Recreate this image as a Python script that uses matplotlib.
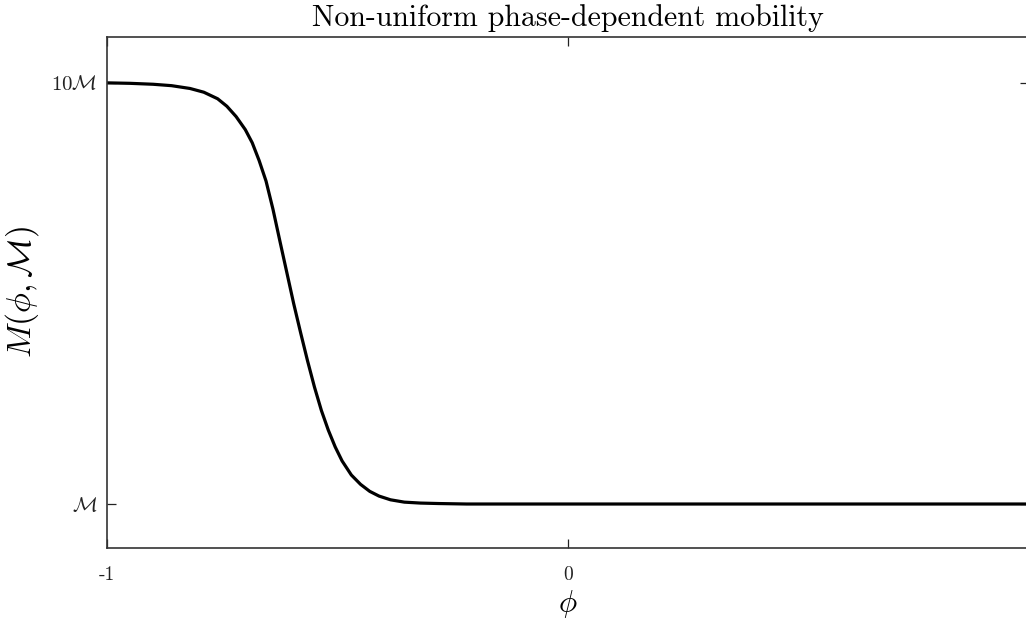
import numpy as np
import matplotlib
matplotlib.use("Agg")
import matplotlib.pyplot as plt

# values (mobility in units of script M)
phi = [-1.0, -0.95, -0.9, -0.86, -0.82, -0.79, -0.76, -0.74, -0.72, -0.70,
       -0.685, -0.67, -0.655, -0.64, -0.625, -0.61, -0.595, -0.58, -0.565,
       -0.55, -0.535, -0.52, -0.505, -0.49, -0.47, -0.45, -0.43, -0.41,
       -0.385, -0.355, -0.32, -0.28, -0.22, -0.1, 0.0, 0.5, 1.0]
mob = [10.0, 9.99, 9.97, 9.94, 9.88, 9.80, 9.66, 9.50, 9.28, 9.00,
       8.72, 8.34, 7.90, 7.30, 6.62, 5.95, 5.28, 4.66, 4.06,
       3.50, 3.00, 2.58, 2.22, 1.92, 1.62, 1.42, 1.27, 1.17,
       1.09, 1.04, 1.02, 1.01, 1.0, 1.0, 1.0, 1.0, 1.0]

xticks = [-1, 0]
xticklabels = ["-1", "0"]
yticks = [1, 10]
yticklabels = [r"$\mathcal{M}$", r"$10\mathcal{M}$"]

plt.rcParams['font.family'] = 'serif'
plt.rcParams['font.serif'] = ['cmr10']
plt.rcParams['mathtext.fontset'] = 'cm'
plt.rcParams['axes.unicode_minus'] = False

fig = plt.figure(figsize=(10.26, 6.25), dpi=100)
ax = fig.add_axes([0.1043, 0.1232, 0.8986, 0.8176])

ax.plot(phi, mob, color='black', lw=2.3, solid_capstyle='butt')

ax.set_xlim(-1, 1)
ax.set_ylim(0.06, 10.98)
ax.set_xticks(xticks)
ax.set_xticklabels(xticklabels)
ax.set_yticks(yticks)
ax.set_yticklabels(yticklabels)
ax.tick_params(direction='in', length=6.5, width=0.9, top=True, right=True,
               colors='#222222', labelsize=14)
ax.tick_params(axis='x', pad=13)
ax.tick_params(axis='y', labelsize=15, pad=7)
for s in ax.spines.values():
    s.set_linewidth(1.2)
    s.set_color('#333333')

ax.set_title("Non-uniform phase-dependent mobility", fontsize=21.5, pad=8)
ax.set_xlabel(r"$\phi$", fontsize=22, labelpad=3)
ax.set_ylabel(r"$M(\phi,\mathcal{M})$", fontsize=24, labelpad=7)

fig.savefig("out.png", dpi=100)
